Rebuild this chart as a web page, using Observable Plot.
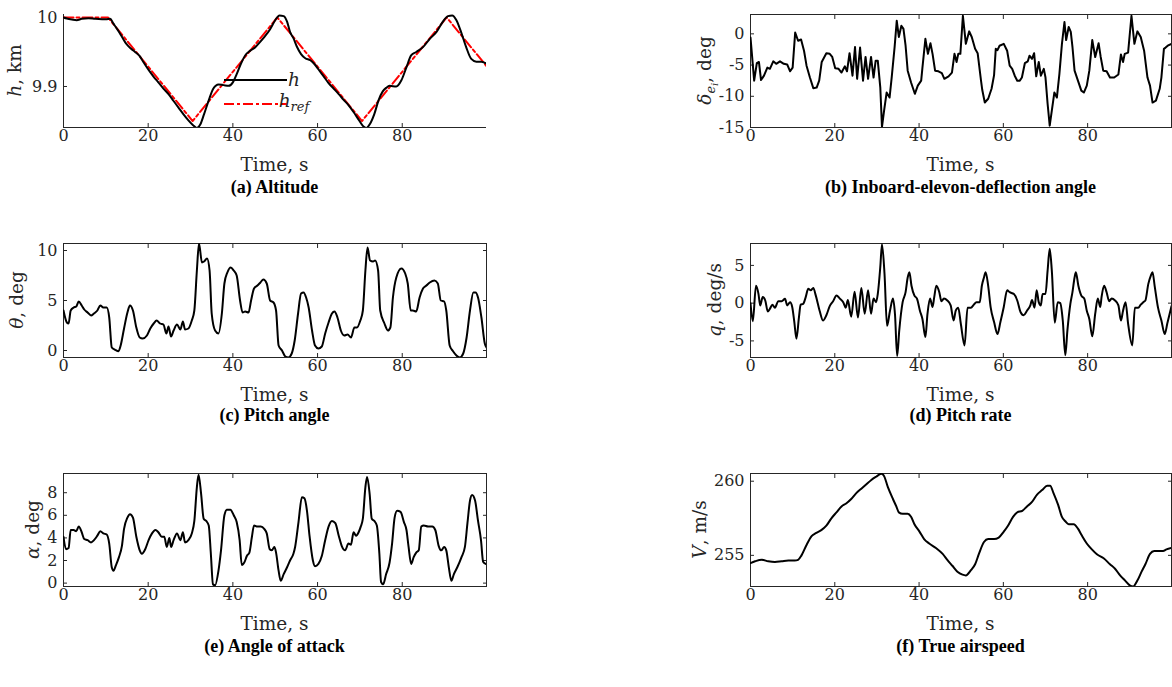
<!DOCTYPE html>
<html><head><meta charset="utf-8">
<script src="https://cdn.jsdelivr.net/npm/d3@7"></script>
<script src="https://cdn.jsdelivr.net/npm/@observablehq/plot@0.6"></script>
<style>
body{margin:0;background:#fff;}
#fig{position:relative;width:1172px;height:687px;overflow:hidden;background:#fff;}
.panel{position:absolute;}
.cap{position:absolute;font-family:'Liberation Serif',serif;font-weight:bold;font-size:18px;white-space:nowrap;transform:translate(-50%,-50%);color:#000;line-height:1;}
</style></head><body><div id="fig"></div>
<script>
// ---------- data ----------
const xTicks = [0, 20, 40, 60, 80];
const xDomain = [0, 99.9];

// (a) altitude, km
const tH = [0,0.8,2,3.1,4.3,5.9,7.5,9.1,10.2,11,11.8,12.8,13.8,14.8,15.9,16.9,18,18.9,20.1,21.3,22.4,23.6,24.8,26,27.2,28.3,29.5,30.6,31.5,32.3,33.2,34.3,35.4,36.6,37.8,39,40,40.9,41.9,42.9,44.1,45.3,46.5,47.6,48.8,50,51,52,52.8,53.5,54.3,55.1,56.1,57.1,58.3,59.2,60.2,61.4,62.6,63.8,65,66.1,67.3,68.5,69.7,70.7,71.5,72.4,73.4,74.4,75.4,76.2,77,78.6,79.8,81,82.1,83.3,84.9,86.5,88.1,89.6,90.8,91.8,92.8,94,95.1,96.3,97.5,98.7,99.9];
const hVals = [10,9.9985,9.997,9.996,9.998,9.999,9.998,9.9976,9.9976,9.998,9.991,9.982,9.972,9.962,9.955,9.95,9.944,9.935,9.924,9.914,9.906,9.897,9.889,9.879,9.869,9.86,9.851,9.844,9.84,9.845,9.86,9.88,9.897,9.903,9.902,9.901,9.906,9.918,9.933,9.945,9.952,9.957,9.965,9.973,9.983,9.996,10.003,10.002,9.994,9.979,9.97,9.958,9.947,9.941,9.938,9.933,9.925,9.915,9.905,9.897,9.889,9.881,9.873,9.863,9.852,9.843,9.84,9.846,9.86,9.88,9.893,9.898,9.901,9.9,9.909,9.928,9.945,9.95,9.957,9.969,9.979,9.994,10.002,10.003,9.996,9.977,9.957,9.94,9.936,9.936,9.933];
const tRef = [0, 10.5, 30.5, 50.5, 70.5, 90.5, 99.9];
const hRef = [10, 10, 9.85, 10, 9.85, 10, 9.9295];
const hTicks = [9.9, 10];

// (b) inboard elevon deflection, deg
const tDelta = [0,0.87,1.5,2,2.5,3.2,4,4.6,5.4,6.1,7,7.9,8.7,9.4,10,10.6,11.3,12,12.7,13.3,14.1,14.9,15.7,16.3,16.9,18,18.8,19.4,20.1,20.9,21.6,22.4,22.9,23.5,24.2,24.8,25.3,26,26.7,27.3,27.9,28.6,29.2,29.7,30.2,30.8,31.2,31.7,32.3,33,33.5,34.2,34.7,35.2,35.8,36.3,36.8,37.3,38.1,39,39.7,40.5,40.8,41.5,42.1,42.7,43.2,43.8,44.6,45.4,46,47,47.8,48.4,48.9,49.3,49.8,50.4,51.1,51.9,52.5,53.3,53.9,54.7,55,55.6,56.4,57.2,57.8,58.2,58.6,59.1,60.1,60.9,61.5,62.1,62.7,63.3,63.9,64.4,65.1,65.8,66.2,66.8,67.3,67.8,68.4,68.9,69.6,70,70.5,71,71.5,72.1,72.7,73.3,73.9,74.5,74.9,75.5,76,76.4,76.9,77.7,78.5,79.1,79.8,80.4,81.1,81.8,82.6,83.1,83.7,84.5,85.3,86.3,87.3,87.9,88.4,88.8,89.6,90.4,91.1,91.8,92.6,93.4,94.2,94.8,95.4,96.2,97.1,97.5,98.1,98.5,99,99.9];
const delta = [-0.6,-7.5,-4.7,-4.5,-7.4,-6.7,-5.4,-5.6,-4.4,-4.8,-4.4,-4.8,-4.9,-6,-5.4,0.2,-1.1,-0.9,-2.7,-5.1,-7,-8.7,-8.6,-7.5,-4.5,-3.1,-3.2,-3.7,-5.5,-5.6,-6.2,-5.2,-6,-3.1,-6.7,-2.1,-7.2,-2.2,-7.5,-3.7,-7.2,-3.7,-7,-4.3,-4.3,-8.6,-14.9,-12.3,-9.4,-10.2,-7,-2.1,2.1,-0.5,1.3,0.8,-1.9,-5.9,-7.8,-9.6,-8.3,-7.5,-5.4,-0.8,-3.2,-1.5,-3.2,-5.9,-6,-6.3,-7.2,-6.8,-6.2,-3.2,-4.5,-3.2,-3.2,2.9,-1.6,0.4,-0.5,-2.4,-3.1,-7.5,-9,-11,-10.4,-8.8,-6.6,-2.4,-2.6,-1.9,-1.6,-2.7,-5.1,-5.6,-6.7,-7.5,-7.5,-7,-4.7,-4.4,-3.5,-4,-3.1,-6.8,-4.5,-6.7,-5.6,-7,-11.2,-14.7,-12.3,-9.4,-10.2,-6.4,-1.6,1.9,-1,1.1,0.3,-2.1,-5.9,-7.5,-9.1,-9.4,-8.3,-5.9,-1,-3.7,-1.5,-3.7,-5.9,-6,-7,-7,-6.5,-3.3,-4.5,-3.2,-3,2.9,-1.6,0.4,-0.5,-2.7,-7,-8.3,-11,-10.7,-8.8,-7,-2.4,-2.2,-1.9,-1.6];
const deltaTicks = [-15, -10, -5, 0];

// (c) pitch angle, deg
const tTheta = [0,0.8,1.2,1.7,2.4,3,3.6,4.3,4.9,5.7,6.5,7.2,8,8.7,9.4,10.2,10.8,11.4,12.2,13,13.5,14.3,15.1,15.7,16.4,17.2,18,18.7,19.7,20.5,21.3,22,22.8,23.6,24.3,24.8,25.4,26,26.8,27.6,28.2,28.7,29.5,30.3,30.9,31.5,32,32.7,33.2,33.9,34.5,35,35.8,36.6,37.4,38,38.7,39.5,40.2,40.9,41.7,42.3,42.9,43.7,44.3,45,45.8,46.5,47.2,48,48.8,49.6,50.2,50.8,51.6,52.4,53.1,53.9,54.6,55.4,56.1,56.7,57.3,57.9,58.7,59.4,60.2,61,61.8,62.6,63.4,64,64.7,65.5,66.3,67.1,67.9,68.7,69.3,70.1,70.7,71.3,71.8,72.4,73.1,73.6,74.3,74.8,75.8,76.6,77.2,77.8,78.6,79.8,80.7,81.3,82,82.5,83.3,84.1,84.9,85.7,86.5,87.6,88.4,89.1,89.9,90.4,91.2,92,92.8,93.6,94.4,95.2,96,96.8,97.3,97.9,98.7,99.5,99.9];
const theta = [4,2.8,2.7,4,4.3,4.4,4.9,4.5,4.1,3.8,3.5,3.7,4,4.5,4.3,4.3,3.3,0.3,0.07,-0.07,0.5,2.2,3.8,4.5,4,2.3,1.3,1.2,1.5,2.2,2.7,3,2.7,2.6,1.7,2.4,1.4,2,2.6,2.1,2.9,2.1,2.2,3,4,8,10.7,8.8,8.9,9.2,8,3.7,2,1.7,3.7,6.7,7.8,8.3,8,7.5,5,3.8,3.9,3.8,5,6.2,6.5,6.8,7.1,6.7,5,4.8,4,0.5,0,-0.6,-0.7,-0.3,1,3.7,5.7,5.8,5.3,4.3,2,0.5,0.2,0.4,1.7,2.8,3.7,3.9,3.3,2,1.5,1.6,1.3,2.3,2.3,3,4,8,10.3,9,8.9,9,8,4,2.7,2,2.3,5.3,7.3,8.2,7.7,6.7,4,4,3.9,5.3,6.2,6.5,6.8,7,6.7,5,4.9,4,0.5,-0.07,-0.5,-0.7,-0.3,1.3,4,5.8,5.8,5.3,3.3,0.7,0.3];
const thetaTicks = [0, 5, 10];

// (d) pitch rate, deg/s
const tQ = [0,0.55,1.3,1.9,2.3,2.9,3.5,4.1,4.6,5.2,5.8,6.6,7.4,8.2,8.7,9.4,9.9,10.4,10.9,11.5,11.9,12.5,13.1,13.7,14.3,14.9,15.5,16.4,17.2,18,18.8,19.6,20.4,21.2,22,22.6,23.1,23.9,24.7,25.5,26.3,27.1,27.9,28.6,29.2,29.8,30.2,30.8,31.2,31.8,32.4,33.1,33.8,34.3,34.8,35.3,36.1,36.8,37.3,37.7,38.2,38.9,39.5,40.2,40.8,41.5,42,42.6,43.2,43.6,44.1,44.8,45.3,45.9,46.7,47.5,48.2,48.7,49.3,49.9,50.8,51.5,52.3,53,53.6,54.4,54.9,55.4,55.8,56.4,57,57.8,58.6,59.3,60.1,60.9,61.5,62.5,63.3,64.1,64.8,65.6,66.4,66.8,67.4,67.9,68.4,68.9,69.3,70,70.5,71,71.5,72.2,72.9,73.5,74.1,74.7,75.2,75.9,76.4,76.9,77.2,77.8,78.5,79.2,79.8,80.4,81.1,81.8,82.4,83,83.3,83.9,84.5,85.1,85.7,86.5,87.3,87.9,88.4,89,89.6,90.6,91.2,92,92.6,93.2,93.7,94.4,95,95.4,95.9,96.7,97.5,98.3,98.9,99.9];
const q = [0,-2.4,2.3,1.2,-0.3,0.8,0.35,-1.1,-0.75,-0.2,-0.6,0.26,0.26,0.57,-0.3,0.13,-0.5,-2.5,-4.7,-1.85,-0.2,-0.1,0.8,1.9,1.7,2,1,-1,-2.3,-1.6,-0.4,0.26,1,0.6,0.13,-0.6,0.4,-1.8,1.5,-1.9,2,-1.4,1.7,-1.4,0.6,0.13,1.2,4.8,7.8,3.9,-3,-1,0.6,-1.6,-7,-3.6,0.13,1.45,3.4,4.1,2.3,1,0.6,-1,-2.1,-4.5,-1.4,0.6,-0.5,0.8,2.3,1.45,0.26,0.6,0.35,-0.3,-2.3,-1,-0.6,-2.7,-5.6,-0.6,-0.6,-0.2,0.13,0.13,2.3,3.4,4.1,2.3,-0.6,-2.5,-4.1,-2.5,-0.5,1.7,1.45,1.2,0.35,-1.2,-1.6,-1,-0.3,0.4,-0.6,1.7,0.13,-0.3,1.2,1.2,4.3,7.2,4.3,-2.6,0.13,0,-2.3,-6.9,-3.6,-0.1,1.45,3.4,4.1,2.3,1,0.6,-1,-2.1,-4.4,-1.4,0.6,-0.5,0.8,2.3,1.45,0.26,0.6,0.35,-0.3,-2.3,-1,0.13,-2.7,-5.6,-0.6,-0.6,-0.2,0.13,0.35,2.55,3.65,4.1,2.3,-0.6,-2.3,-4.1,-2.7,-0.4];
const qTicks = [-5, 0, 5];

// (e) angle of attack, deg
const tAlpha = [0,0.6,1.2,1.7,2.4,3,3.6,4.3,4.9,5.7,6.5,7.2,8,8.7,9.4,10.2,10.8,11.4,11.8,12.4,13.1,13.8,14.3,15.1,15.7,16.4,17.2,18,18.5,19.3,20.1,20.9,21.7,22.4,23.2,23.8,24.4,25,25.4,26,26.8,27.6,28.2,28.7,29.5,30.3,30.9,31.5,31.9,32.5,33.1,33.7,34.3,34.8,35.3,35.8,36.6,37.2,38,38.6,39.4,40.2,40.9,41.6,42.1,42.8,43.3,43.9,44.5,45,45.8,46.6,47.4,48,48.7,49.2,49.8,50.2,50.8,51.3,52,52.8,53.5,54.3,54.7,55.5,56.3,56.9,57.5,58.1,58.9,59.4,60.2,61,61.8,62.6,63.4,64.2,65,65.7,66.5,67.3,67.9,68.5,69.1,69.7,70.2,70.7,71.3,71.7,72.3,72.8,73.4,74,74.6,75,75.5,76.2,77,77.6,78.2,78.8,79.6,80.4,81,81.5,82.1,82.7,83.3,83.9,84.5,85.1,86.1,87.1,87.8,88.6,89.2,89.9,90.4,91,91.6,92.2,93,94,94.8,95.4,96,96.5,97.2,97.9,98.6,99.1,99.7];
const alpha = [4.1,3,3.1,4.7,4.7,4.6,5,4.5,3.9,3.8,3.6,3.8,4.2,4.6,4.4,4.3,3.5,1.4,1.1,1.6,2.3,3.3,4.8,5.8,6.1,5.8,4.1,2.9,2.6,3,3.8,4.4,4.7,4.5,4.1,4.1,3.2,4,3.2,3.8,4.4,3.8,4.5,3.6,3.8,4.4,5.5,8.5,9.6,7.9,5.7,5.5,5.1,2.6,-0.1,-0.2,1.1,2.9,6,6.5,6.5,6,5.4,3.8,1.6,1.9,2.4,2.7,4.1,5.1,5,5,4.8,4.4,3,2.9,3.2,2.7,1.1,0.2,0.8,1.4,2,2.6,3.2,5.4,7.6,7.5,6.4,4.2,2,1.5,1.7,2.4,3.8,5,5.5,5.3,4.2,3.3,2.9,3.5,3.4,4.5,4.2,4.5,5,5.7,8.5,9.4,7.9,5.7,5.5,5.1,2.6,0.1,-0.1,0.8,1.8,3.5,5.8,6.4,6.3,5.4,4.7,3.2,1.7,2.3,2.7,2.9,5,5.1,5,5,4.7,3.3,2.9,3.2,2.9,1.4,0.2,0.8,1.4,2.3,3.2,5.3,7.3,7.8,7.3,5.5,3.8,1.9,1.7];
const alphaTicks = [0, 2, 4, 6, 8];

// (f) true airspeed, m/s
const tV = [0,1.1,2.7,4.2,5.8,7.4,9,10.5,11.3,12.1,13.3,14.5,15.5,16.8,18,19.2,20.4,21.6,22.7,23.9,25.1,26.3,27.5,28.6,29.8,31,31.6,32.6,33.8,34.6,35.2,36.1,37.3,38.1,38.9,40.1,41.2,42.4,44,45.6,46.7,47.9,49.1,50.3,51.1,52.3,53.3,54.2,55.4,56.4,57.8,58.9,60.1,61.1,62.3,63.3,64.5,65.6,66.8,68,69.2,70.4,71.1,71.9,73,73.9,74.7,75.5,76.7,77.7,78.6,79.8,81,82.2,83.8,85.3,86.5,87.7,88.9,90,90.8,91.8,92.8,93.7,94.8,95.8,96.9,97.9,98.7,99.9];
const V = [254.48,254.6,254.7,254.6,254.55,254.6,254.65,254.65,254.7,255,255.7,256.3,256.5,256.7,257,257.5,257.9,258.3,258.5,258.8,259.2,259.5,259.8,260.07,260.3,260.5,260.4,259.6,258.8,258.3,257.9,257.8,257.8,257.6,257.1,256.6,256.1,255.8,255.5,255.1,254.7,254.3,253.9,253.7,253.65,254,254.4,255.1,255.9,256.1,256.1,256.2,256.6,257,257.6,257.9,258,258.3,258.6,259.1,259.4,259.7,259.7,259.2,258.4,257.6,257.3,257.1,257.1,256.8,256.35,255.8,255.4,255.07,254.8,254.4,254.1,253.65,253.3,252.97,252.9,253.3,253.9,254.4,255.1,255.3,255.3,255.3,255.4,255.5];
const vTicks = [255, 260];

// ---------- drawing ----------
const AX = "#262626";
const FONT = "'DejaVu Serif', serif";
const fmt = d => String(d);
const rows = [{top: 14, bottom: 127}, {top: 243, bottom: 357}, {top: 473, bottom: 586}];
const cols = [{svgLeft: 0, width: 560, mLeft: 63, mRight: 74}, {svgLeft: 640, width: 532, mLeft: 110, mRight: 1}];
const fig = document.getElementById("fig");
const zip = (t, v) => t.map((x, i) => ({t: x, v: v[i]})).filter(d => d.v !== undefined);

function panel(o) {
  const row = rows[o.row], col = cols[o.col];
  const mTop = 10, mBottom = 60;
  const plotH = row.bottom - row.top;
  const height = plotH + mTop + mBottom;
  const marks = [];
  if (o.box) {
    marks.push(Plot.frame({stroke: AX, strokeWidth: 1}));
    marks.push(Plot.axisX(xTicks, {anchor: "top", tickSize: -4, fill: "none", stroke: AX, label: null}));
    marks.push(Plot.axisY(o.yTicks, {anchor: "right", tickSize: -4, fill: "none", stroke: AX, label: null}));
  } else {
    marks.push(Plot.ruleX([xDomain[0]], {stroke: AX}));
    marks.push(Plot.ruleY([o.yDomain[0]], {stroke: AX}));
  }
  marks.push(Plot.axisX(xTicks, {anchor: "bottom", tickSize: -4, tickPadding: 6, tickFormat: fmt, label: null, fontSize: 16, color: AX}));
  marks.push(Plot.axisY(o.yTicks, {anchor: "left", tickSize: -4, tickPadding: 10, tickFormat: fmt, label: null, fontSize: 16, color: AX}));
  for (const s of o.series) {
    marks.push(Plot.line(s.data, {x: "t", y: "v", stroke: s.color, strokeWidth: s.width || 2, strokeDasharray: s.dash, curve: s.curve || "monotone-x", clip: true}));
  }
  const svg = Plot.plot({
    width: col.width, height,
    marginLeft: col.mLeft, marginRight: col.mRight, marginTop: mTop, marginBottom: mBottom,
    x: {domain: xDomain}, y: {domain: o.yDomain},
    style: {fontFamily: FONT, fontSize: "16px", color: AX, background: "transparent", overflow: "visible"},
    marks
  });
  const div = document.createElement("div");
  div.className = "panel";
  div.style.left = col.svgLeft + "px";
  div.style.top = (row.top - mTop) + "px";
  div.style.width = col.width + "px";
  div.style.height = height + "px";
  div.appendChild(svg);
  fig.appendChild(div);

  const g = d3.select(svg);
  const plotW = col.width - col.mLeft - col.mRight;
  // x label
  g.append("text").attr("x", col.mLeft + plotW / 2).attr("y", mTop + plotH + 44)
    .attr("text-anchor", "middle").attr("font-family", FONT).attr("font-size", 18.5).attr("fill", AX)
    .text("Time, s");
  // y label (rotated)
  const yl = g.append("text")
    .attr("transform", `translate(${col.mLeft + o.ylx + 6},${mTop + plotH / 2}) rotate(-90)`)
    .attr("text-anchor", "middle").attr("font-family", FONT).attr("font-size", 18.5).attr("fill", AX);
  for (const p of o.ylabel) {
    const ts = yl.append("tspan").text(p.t);
    if (p.i) ts.attr("font-style", "italic");
    if (p.fs) ts.attr("font-size", p.fs);
    if (p.dy) ts.attr("dy", p.dy);
  }
  // caption
  const cap = document.createElement("div");
  cap.className = "cap";
  cap.style.left = (col.svgLeft + col.mLeft + plotW / 2) + "px";
  cap.style.top = o.capY + "px";
  cap.textContent = o.caption;
  fig.appendChild(cap);
  return {svg: g, mTop, row};
}

// (a)
const pa = panel({
  row: 0, col: 0, box: false, yDomain: [9.8406, 10.0043], yTicks: hTicks,
  series: [
    {data: zip(tRef, hRef), color: "#ff0000", dash: "10,3,3,3", curve: "linear"},
    {data: zip(tH, hVals), color: "#000"}
  ],
  ylabel: [{t: "h", i: true}, {t: ", km"}], ylx: -48,
  caption: "(a) Altitude", capY: 187
});
// legend for (a)
{
  const g = pa.svg, off = pa.row.top - pa.mTop;
  g.append("line").attr("x1", 224).attr("x2", 287).attr("y1", 80 - off).attr("y2", 80 - off)
    .attr("stroke", "#000").attr("stroke-width", 2);
  g.append("line").attr("x1", 224).attr("x2", 287).attr("y1", 104 - off).attr("y2", 104 - off)
    .attr("stroke", "#ff0000").attr("stroke-width", 2).attr("stroke-dasharray", "10,3,3,3");
  g.append("text").attr("x", 294).attr("y", 86 - off).attr("font-family", FONT).attr("font-size", 18.5)
    .attr("font-style", "italic").attr("fill", AX).text("h");
  const t2 = g.append("text").attr("x", 294).attr("y", 107 - off).attr("font-family", FONT).attr("font-size", 18.5)
    .attr("font-style", "italic").attr("fill", AX);
  t2.append("tspan").text("h");
  t2.append("tspan").attr("font-size", 13).attr("dy", 4).text("ref");
}
// (b)
panel({
  row: 0, col: 1, box: true, yDomain: [-15, 3.1], yTicks: deltaTicks,
  series: [{data: zip(tDelta, delta), color: "#000", curve: "linear"}],
  ylabel: [{t: "δ", i: true}, {t: "e", i: true, fs: 13, dy: 4}, {t: "i", i: true, fs: 10, dy: 3}, {t: ", deg", fs: 18.5, dy: -7}], ylx: -45,
  caption: "(b) Inboard-elevon-deflection angle", capY: 187
});
// (c)
panel({
  row: 1, col: 0, box: true, yDomain: [-0.7, 10.7], yTicks: thetaTicks,
  series: [{data: zip(tTheta, theta), color: "#000"}],
  ylabel: [{t: "θ", i: true}, {t: ", deg"}], ylx: -46,
  caption: "(c) Pitch angle", capY: 415
});
// (d)
panel({
  row: 1, col: 1, box: true, yDomain: [-7.2, 7.9], yTicks: qTicks,
  series: [{data: zip(tQ, q), color: "#000"}],
  ylabel: [{t: "q", i: true}, {t: ", deg/s"}], ylx: -35,
  caption: "(d) Pitch rate", capY: 415
});
// (e)
panel({
  row: 2, col: 0, box: true, yDomain: [-0.3, 9.7], yTicks: alphaTicks,
  series: [{data: zip(tAlpha, alpha), color: "#000"}],
  ylabel: [{t: "α", i: true}, {t: ", deg"}], ylx: -30,
  caption: "(e) Angle of attack", capY: 646
});
// (f)
panel({
  row: 2, col: 1, box: true, yDomain: [252.9, 260.52], yTicks: vTicks,
  series: [{data: zip(tV, V), color: "#000"}],
  ylabel: [{t: "V", i: true}, {t: ", m/s"}], ylx: -50,
  caption: "(f) True airspeed", capY: 646
});
</script>
</body></html>
